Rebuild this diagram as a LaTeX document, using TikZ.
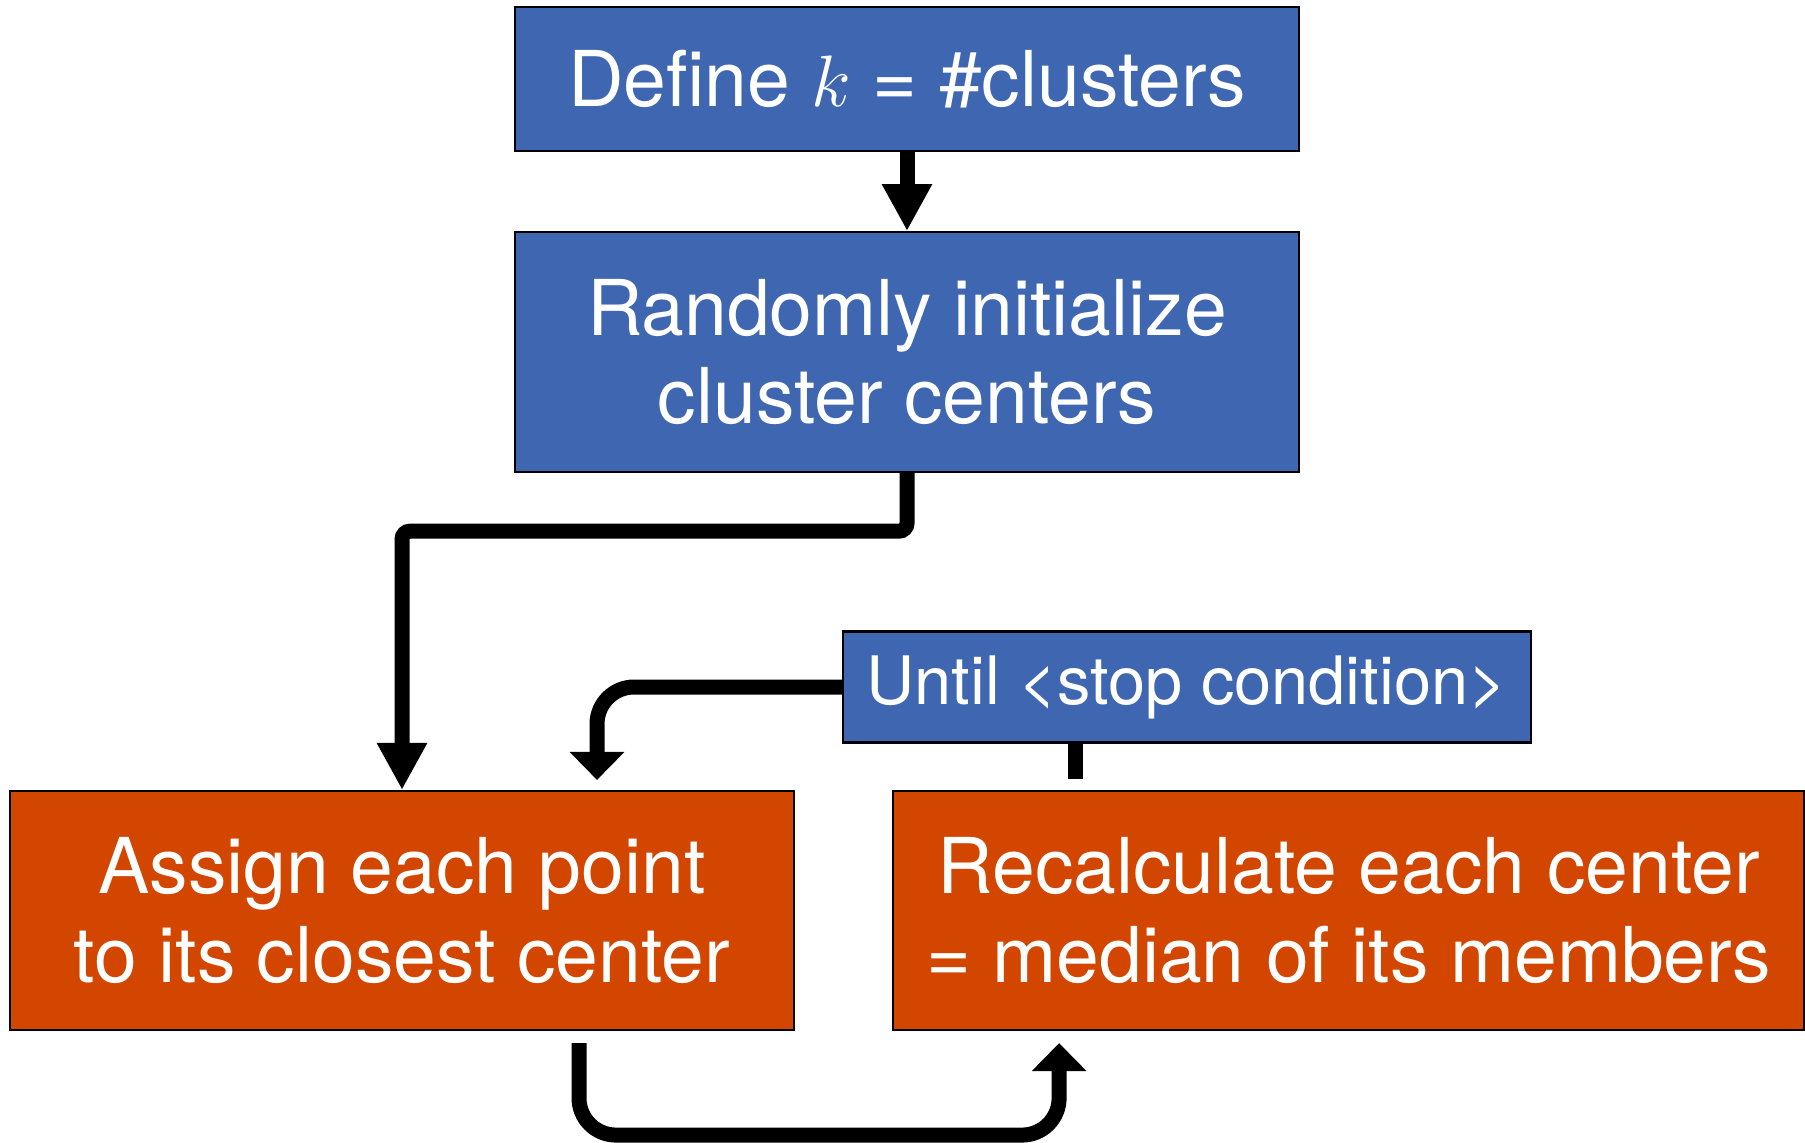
\documentclass[tikz,border=0pt]{standalone}
\usepackage{fontspec}
\setmainfont{TeX Gyre Heros}
\usepackage{tikz}
\usetikzlibrary{arrows.meta, positioning, calc}
\definecolor{kblue}{RGB}{63,103,177}
\definecolor{korange}{RGB}{211,70,0}

\begin{document}
\begin{tikzpicture}[
    base/.style={draw=black, line width=0.6pt, align=center, text=white, inner sep=2pt,
        font=\fontsize{21.9}{25.2}\selectfont},
    bluebox/.style={base, fill=kblue, minimum width=7.84cm},
    orangebox/.style={base, fill=korange, minimum height=2.39cm},
    link/.style={line width=0.15cm},
    sharp/.style={link, -{Triangle[length=0.47cm, width=0.47cm]}},
    flat/.style={link, -{Triangle[length=0.28cm, width=0.53cm]}}
    ]
    \useasboundingbox (0,0) rectangle (18.05,-11.42);

    % --- Columna superior ---
    \node (define) [bluebox, minimum height=1.44cm] at (9.07,-0.79) {Define \(k\) = \#clusters};

    \node (init) [bluebox, minimum height=2.40cm, below=0.79cm of define] {Randomly initialize\\cluster centers};

    % --- Fila inferior ---
    \node (assign) [orangebox, minimum width=7.84cm] at (4.02,-9.105) {Assign each point\\to its closest center};

    \node (recalc) [orangebox, minimum width=9.11cm, right=0.97cm of assign] {Recalculate each center\\= median of its members};

    \node (until) [base, fill=kblue, minimum width=6.88cm, minimum height=1.11cm,
        font=\fontsize{19}{22}\selectfont] at (11.87,-6.87) {Until <stop condition>};

    % --- Conexiones ---
    \draw[sharp] (define) -- (init);
    \draw[sharp, rounded corners=0.08cm] (init.south) -- ++(0,-0.58) -| (assign.north);

    % --- Bucle ---
    \draw[flat, rounded corners=0.37cm, shorten >=0.10cm] (until.west) -| ([xshift=1.95cm]assign.north);
    \draw[link, shorten >=0.11cm] ([xshift=-1.12cm]until.south) -- ([xshift=-1.12cm]until.south |- recalc.north);
    \draw[flat, rounded corners=0.37cm, shorten <=0.12cm, shorten >=0.12cm]
        ([xshift=1.77cm]assign.south) -- ++(0,-1.04) -| ([xshift=-2.895cm]recalc.south);

\end{tikzpicture}
\end{document}
